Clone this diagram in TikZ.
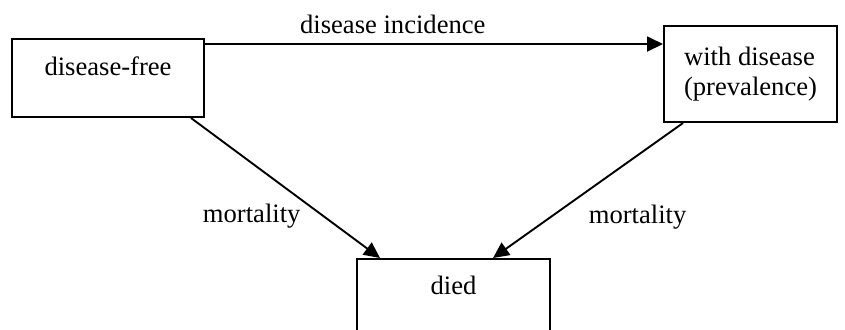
\documentclass[tikz,border=0pt]{standalone}
\usepackage{fontspec}
\setmainfont{Liberation Serif}
\usetikzlibrary{arrows.meta, positioning}

\begin{document}
\begin{tikzpicture}[
    x=0.5pt, y=-0.5pt,
    every node/.style={font=\fontsize{13.3}{15}\selectfont},
    state/.style={rectangle, draw, line width=1pt, inner sep=0pt, anchor=north west, text height=18pt, text depth=21pt, align=center},
    line/.style={draw, line width=0.95pt, -{Triangle[length=8pt, width=7.5pt]}}
]
    \path[use as bounding box, clip] (0,0) rectangle (845,329);

    % States
    \node[state, minimum width=96pt] (free) at (11,38) {disease-free};
    \node[state, minimum width=86.5pt, minimum height=48pt, text height=, text depth=, align=left] (prev) at (663,25) {with disease\\(prevalence)};
    \node[state, minimum width=96.5pt, text height=17.5pt] (died) at (356,258) {died};

    % Transitions
    \path[line] ([yshift=-3pt]free.north east) -- ([yshift=-3pt]free.north east -| prev.west)
        node[pos=0.41, anchor=base, yshift=5.5pt] {disease incidence};
    \path[line] ([xshift=-7pt]free.south east) -- ([xshift=12pt]died.north west)
        node[pos=0.7, anchor=east, xshift=-7.6pt] {mortality};
    \path[line] ([xshift=10pt]prev.south west) -- ([xshift=19.75pt]died.north)
        node[pos=0.7, anchor=west, xshift=15.6pt] {mortality};

\end{tikzpicture}
\end{document}
